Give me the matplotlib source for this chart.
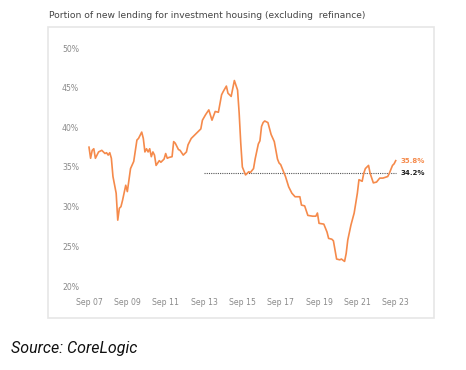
import matplotlib
matplotlib.use("Agg")
import matplotlib.pyplot as plt
from matplotlib.patches import Rectangle

# ---- data (months since Sep 2007, % of new lending) ----
months = [0, 1, 2, 3, 4, 6, 8, 10, 11, 12, 13, 14, 15, 17, 18, 19, 20, 21, 23, 24,
          26, 28, 30, 31, 33, 34, 35, 36, 37, 38, 39, 40, 41, 42, 44, 45, 47, 48, 49, 50,
          52, 53, 54, 56, 57, 59, 61, 62, 64, 66, 68, 70, 71, 73, 75, 77, 79, 81, 83, 84,
          86, 87, 89, 91, 93, 94, 95, 96, 98, 99, 100, 101, 103, 104, 106, 107, 108, 109, 110, 112,
          114, 116, 118, 119, 120, 121, 123, 125, 127, 129, 132, 133, 135, 137, 140, 142, 143, 144, 147, 149,
          150, 152, 153, 155, 157, 158, 160, 161, 162, 164, 166, 168, 169, 171, 172, 173, 175, 176, 178, 180,
          182, 184, 187, 188, 190, 191, 192]
share = [37.5, 36.1, 37.1, 37.3, 36.1, 36.9, 37.1, 36.7, 36.8, 36.5, 36.8, 36.1, 33.8, 31.7, 28.3, 29.8, 30.0, 30.8, 32.7, 31.9,
         34.8, 35.7, 38.4, 38.6, 39.4, 38.6, 36.9, 37.3, 36.9, 37.3, 36.3, 36.9, 36.5, 35.2, 35.8, 35.6, 36.0, 36.7, 36.1, 36.2,
         36.3, 38.2, 38.0, 37.2, 37.1, 36.5, 36.9, 37.8, 38.6, 39.0, 39.4, 39.8, 40.9, 41.6, 42.2, 40.9, 42.0, 41.9, 44.1, 44.5,
         45.2, 44.3, 43.9, 45.9, 44.7, 41.8, 38.0, 35.0, 34.0, 34.2, 34.4, 34.3, 34.8, 36.0, 37.9, 38.3, 40.1, 40.6, 40.8, 40.6,
         39.1, 38.2, 36.0, 35.5, 35.3, 34.8, 33.8, 32.5, 31.7, 31.25, 31.25, 30.2, 30.1, 28.9, 28.8, 28.8, 29.2, 27.9, 27.8, 26.8,
         26.0, 25.9, 25.7, 23.4, 23.3, 23.4, 23.1, 24.1, 25.8, 27.7, 29.2, 31.7, 33.4, 33.2, 34.2, 34.8, 35.2, 34.2, 33.0, 33.1,
         33.6, 33.6, 33.8, 34.2, 35.2, 35.4, 35.8]
avg_value = 34.2
avg_start = 72
last_label = "35.8%"
avg_label = "34.2%"
xtick_pos = [0, 24, 48, 72, 96, 120, 144, 168, 192]
xtick_labels = ["Sep 07", "Sep 09", "Sep 11", "Sep 13", "Sep 15", "Sep 17", "Sep 19", "Sep 21", "Sep 23"]
ytick_pos = [20, 25, 30, 35, 40, 45, 50]
ytick_labels = ["20%", "25%", "30%", "35%", "40%", "45%", "50%"]
title = "Portion of new lending for investment housing (excluding  refinance)"
source = "Source: CoreLogic"

W, H = 466, 370
fig = plt.figure(figsize=(W / 100, H / 100), dpi=100)
fig.patch.set_facecolor("white")

# axes placement in pixels
xl, xr = -8, 198
yb, yt = 19, 51
px_per_m = (395.7 - 89) / 192
px_per_pct = (286 - 48) / 30
left_px = 89 + xl * px_per_m
right_px = 89 + xr * px_per_m
top_px = 48 - (yt - 50) * px_per_pct
bot_px = 286 + (20 - yb) * px_per_pct
ax = fig.add_axes([left_px / W, 1 - bot_px / H, (right_px - left_px) / W, (bot_px - top_px) / H])
ax.set_xlim(xl, xr)
ax.set_ylim(yb, yt)
ax.patch.set_alpha(0)
for s in ax.spines.values():
    s.set_visible(False)

orange = "#F58A4B"
ax.plot(months, share, color=orange, lw=1.2, solid_joinstyle="round", zorder=3)
ax.plot([avg_start, months[-1]], [avg_value, avg_value], color="#555555", lw=0.8,
        linestyle=(0, (1, 1)), zorder=2)

ax.annotate(last_label, (months[-1], share[-1]), xytext=(3.6, 0), textcoords="offset points",
            color=orange, fontsize=5, fontweight="bold", va="center", ha="left")
ax.annotate(avg_label, (months[-1], avg_value), xytext=(3.2, 0), textcoords="offset points",
            color="#222222", fontsize=5, fontweight="bold", va="center", ha="left")

tick_color = "#8a8a8a"
ax.set_xticks(xtick_pos)
ax.set_xticklabels(xtick_labels)
ax.set_yticks(ytick_pos)
ax.set_yticklabels(ytick_labels)
ax.tick_params(axis="both", length=0, labelsize=5.6, colors=tick_color)
ax.tick_params(axis="x", pad=(301 - bot_px) * 0.72 - 2.5)
ax.tick_params(axis="y", pad=(left_px - 62) * 0.72)
for lab in ax.get_yticklabels():
    lab.set_ha("left")

# frame box
fig.patches.append(Rectangle((48 / W, 1 - 318 / H), (434 - 48) / W, (318 - 27) / H,
                             transform=fig.transFigure, fill=False, edgecolor="#e6e6e6",
                             lw=1.2, zorder=0))

t = fig.text(49 / W, 1 - 16 / H, title, fontsize=6.2, color="#444444", va="center", ha="left")
s = fig.text(11 / W, 1 - 348 / H, source, fontsize=10.5, color="#111111", va="center", ha="left",
             family="Roboto", style="italic")

# fit text widths
fig.canvas.draw()
r = fig.canvas.get_renderer()
for txt, target in [(t, 316), (s, 127)]:
    w = txt.get_window_extent(r).width
    txt.set_fontsize(txt.get_fontsize() * target / w)

fig.savefig("out.png", dpi=100)
